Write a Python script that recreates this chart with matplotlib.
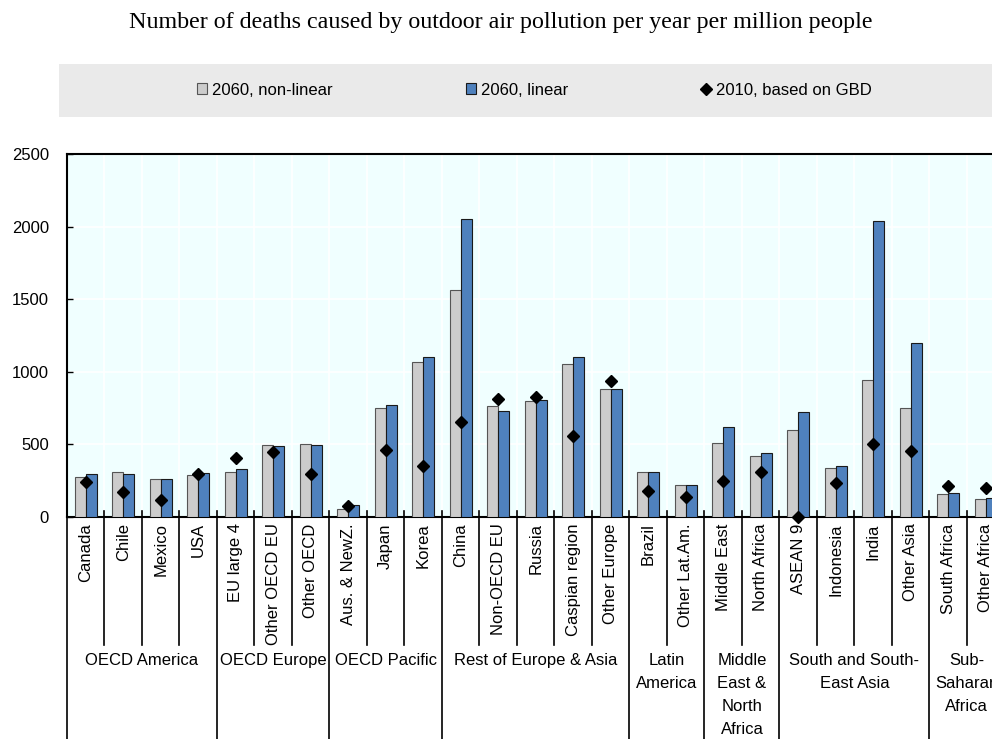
import numpy as np
import matplotlib
matplotlib.use("Agg")
import matplotlib.pyplot as plt
from matplotlib.patches import Patch, Rectangle
from matplotlib.lines import Line2D

plt.rcParams['font.family'] = ['Liberation Sans', 'DejaVu Sans']

# data
countries = ["Canada", "Chile", "Mexico", "USA",
             "EU large 4", "Other OECD EU", "Other OECD",
             "Aus. & NewZ.", "Japan", "Korea",
             "China", "Non-OECD EU", "Russia", "Caspian region", "Other Europe",
             "Brazil", "Other Lat.Am.",
             "Middle East", "North Africa",
             "ASEAN 9", "Indonesia", "India", "Other Asia",
             "South Africa", "Other Africa"]
groups = ["OECD America", "OECD Europe", "OECD Pacific", "Rest of Europe & Asia",
          "Latin\nAmerica", "Middle\nEast &\nNorth\nAfrica",
          "South and South-\nEast Asia", "Sub-\nSaharan\nAfrica"]
group_sizes = [4, 3, 3, 5, 2, 2, 4, 2]

nonlinear_2060 = [277, 308, 262, 287, 312, 498, 505, 57, 751, 1065, 1561, 762, 801,
                  1056, 884, 312, 218, 512, 420, 601, 340, 941, 749, 158, 122]
linear_2060 = [294, 294, 260, 301, 333, 487, 498, 85, 773, 1104, 2052, 728, 803,
               1104, 884, 312, 222, 618, 439, 721, 349, 2041, 1196, 162, 129]
gbd_2010 = [243, 172, 115, 294, 404, 450, 298, 74, 461, 351, 656, 815, 824,
            556, 939, 177, 138, 246, 312, 0, 232, 503, 457, 216, 200]

gray = "#CCCCCC"
blue = "#4F81BD"

fig = plt.figure(figsize=(9.92, 7.39), dpi=100)
ax = fig.add_axes([0.0675, 0.3004, 0.945, 0.4912])

x = np.arange(len(countries))
w = 0.29
ax.bar(x - w / 2, nonlinear_2060, w, color=gray, edgecolor="#555555", linewidth=0.8, zorder=3)
ax.bar(x + w / 2, linear_2060, w, color=blue, edgecolor="#1a1a1a", linewidth=0.8, zorder=3)
ax.plot(x, gbd_2010, linestyle="none", marker="D", markersize=6.5, color="black",
        zorder=4, clip_on=False)

ax.set_xlim(-0.5, len(countries) - 0.5)
ax.set_ylim(0, 2500)
ax.set_yticks(np.arange(0, 2501, 500))
ax.set_facecolor("#F0FFFF")
ax.set_xticks(x)
ax.set_xticklabels(countries, rotation=90, fontsize=12)
ax.set_xticks(np.arange(-0.5, len(countries), 1), minor=True)
ax.tick_params(axis="x", which="both", length=0, pad=4.5)
ax.tick_params(axis="y", direction="in", length=4.2, width=1, pad=13, labelsize=12)
ax.grid(True, which="minor", axis="x", color="white", linewidth=1.2, zorder=0)
ax.grid(True, which="major", axis="y", color="white", linewidth=1.2, zorder=0)
ax.set_axisbelow(True)
for s in ["left", "top", "bottom"]:
    ax.spines[s].set_linewidth(1.5)
ax.spines["right"].set_visible(False)

# separators below the axis
tr = ax.get_xaxis_transform()
bounds = np.cumsum([0] + group_sizes) - 0.5
for b in np.arange(-0.5, len(countries), 1):
    if b in bounds:
        ax.plot([b, b], [0.016, -0.65], transform=tr, color="black", lw=1.2, clip_on=False)
    else:
        ax.plot([b, b], [0.016, -0.353], transform=tr, color="black", lw=1.2, clip_on=False)

for g, lo, hi in zip(groups, bounds[:-1], bounds[1:]):
    ax.text((lo + hi) / 2, -0.376, g, transform=tr, ha="center", va="top",
            fontsize=12, linespacing=1.65)

# title and legend band
fig.text(0.505, 0.969, "Number of deaths caused by outdoor air pollution per year per million people",
         ha="center", va="center", fontsize=17.3, family="Liberation Serif")
fig.add_artist(Rectangle((0.0595, 0.8417), 1.0, 0.0717, transform=fig.transFigure,
                         facecolor="#EAEAEA", edgecolor="none", zorder=0))
handles = [Patch(facecolor=gray, edgecolor="#555555", linewidth=0.8),
           Patch(facecolor=blue, edgecolor="#1a1a1a", linewidth=0.8),
           Line2D([], [], linestyle="none", marker="D", markersize=6, color="black")]
labels = ["2060, non-linear", "2060, linear", "2010, based on GBD"]
fig.legend(handles, labels, ncol=3, loc="center left", bbox_to_anchor=(0.1983, 0.878),
           frameon=False, fontsize=12, handlelength=0.6, handleheight=0.6,
           handletextpad=0.3, columnspacing=8.0, borderpad=0, borderaxespad=0)

fig.savefig("out.png", dpi=100)
